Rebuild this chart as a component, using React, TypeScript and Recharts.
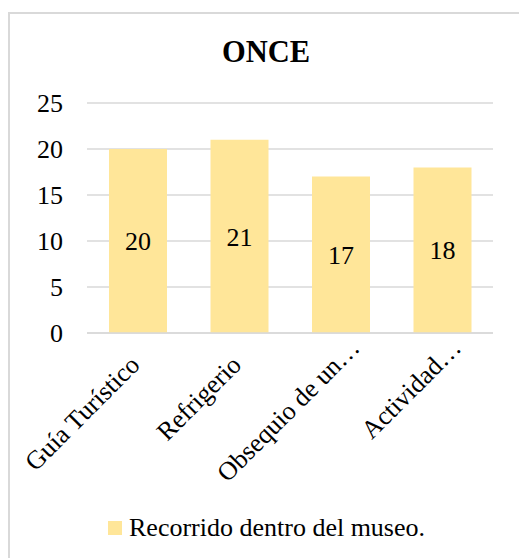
import React from 'react';
import { BarChart, Bar, XAxis, YAxis, CartesianGrid, LabelList } from 'recharts';

const categories = ['Guía Turístico', 'Refrigerio', 'Obsequio de un…', 'Actividad…'];
const values = [20, 21, 17, 18];
const yTicks = [0, 5, 10, 15, 20, 25];
const seriesName = 'Recorrido dentro del museo.';
const title = 'ONCE';

const data = categories.map((c, i) => ({ name: c, value: values[i] }));

const FONT = 'Liberation Serif, DejaVu Serif, serif';
const FS = 26;

const XTick = (props: any) => {
  const { x, y, payload } = props;
  const label = String(payload.value);
  const truncated = label.endsWith('…');
  return (
    <g transform={`translate(${x - 3},${y + 27})`}>
      <text
        textAnchor="end"
        transform="rotate(-45)"
        fontSize={FS}
        fontFamily={FONT}
        fill="#000"
        dx={truncated ? 24 : 0}
        dy="0.35em"
      >
        {label}
      </text>
    </g>
  );
};

export default function App() {
  return (
    <div style={{ position: 'absolute', left: 0, top: 0, width: 519, height: 558, overflow: 'hidden', background: '#fff', fontFamily: FONT }}>
      <div style={{ position: 'absolute', left: 8, top: 12, width: 560, height: 600, border: '2px solid #d9d9d9', boxSizing: 'border-box' }} />
      <div style={{ position: 'absolute', left: 0, top: 37, width: 532, textAlign: 'center', fontFamily: FONT, fontSize: 30.5, fontWeight: 'bold', lineHeight: 1, color: '#000' }}>
        {title}
      </div>
      <div style={{ position: 'absolute', left: 0, top: 0 }}>
        <BarChart width={519} height={558} data={data} margin={{ top: 103, right: 26, bottom: 75, left: 0 }} barSize={58}>
          <CartesianGrid vertical={false} stroke="#d9d9d9" strokeWidth={1.5} />
          <YAxis
            domain={[0, 25]}
            ticks={yTicks}
            width={87}
            axisLine={false}
            tickLine={false}
            tickSize={0}
            tickMargin={24}
            tick={{ fontSize: FS, fontFamily: FONT, fill: '#000' }}
          />
          <XAxis
            dataKey="name"
            height={150}
            axisLine={{ stroke: '#d9d9d9', strokeWidth: 1.5 }}
            tickLine={false}
            tickSize={0}
            tickMargin={0}
            interval={0}
            tick={<XTick />}
          />
          <Bar dataKey="value" name={seriesName} fill="#FFE699" isAnimationActive={false}>
            <LabelList dataKey="value" position="center" fontSize={FS} fontFamily={FONT} fill="#000" />
          </Bar>
        </BarChart>
      </div>
      <div style={{ position: 'absolute', left: 108, top: 514, display: 'flex', alignItems: 'center', fontFamily: FONT, fontSize: FS, lineHeight: '28px', color: '#000', whiteSpace: 'nowrap' }}>
        <span style={{ display: 'inline-block', width: 14, height: 14, background: '#FFE699', marginRight: 7 }} />
        <span>{seriesName}</span>
      </div>
    </div>
  );
}
